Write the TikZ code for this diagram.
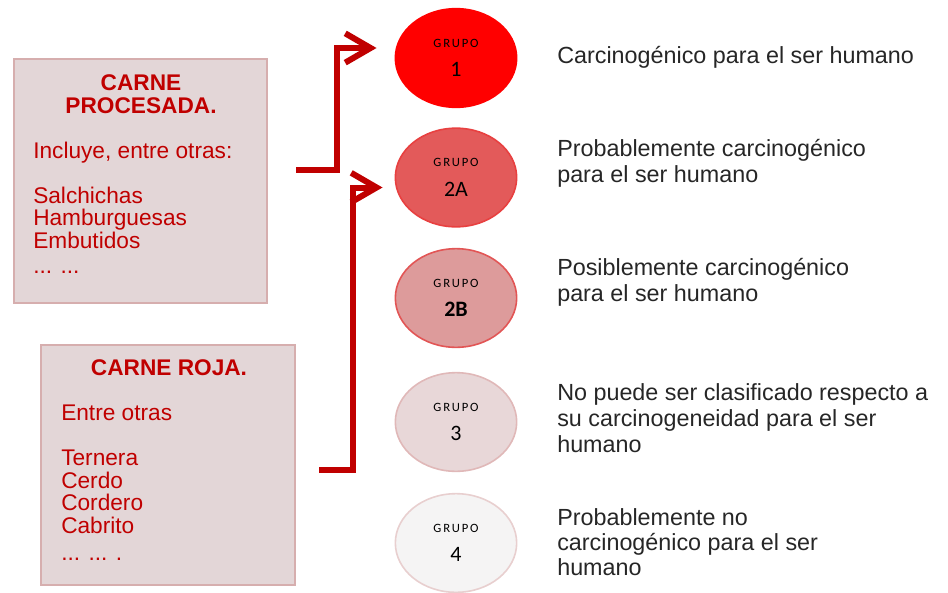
\documentclass[tikz,border=0pt]{standalone}
\usepackage{fontspec}
\setmainfont{Liberation Sans}
\newfontfamily\grupofont{Carlito}
\newfontfamily\grupoletras{Carlito}[LetterSpace=14]
\usetikzlibrary{shapes.geometric,arrows.meta}

\definecolor{rojoosc}{HTML}{C00000}
\definecolor{cajafondo}{HTML}{E3D6D7}
\definecolor{cajaborde}{HTML}{D6AEAE}
\definecolor{gunof}{HTML}{FF0000}
\definecolor{gdosaf}{HTML}{E35A5A}
\definecolor{gdosab}{HTML}{E84040}
\definecolor{gdosbf}{HTML}{DD9B9B}
\definecolor{gdosbb}{HTML}{E25555}
\definecolor{gtresf}{HTML}{E8D7D8}
\definecolor{gtresb}{HTML}{E0B8B8}
\definecolor{gcuatrof}{HTML}{F5F4F4}
\definecolor{gcuatrob}{HTML}{E8CFCF}

\newcommand{\rotulo}[1]{{\grupoletras\fontsize{9.5}{10}\selectfont GRUPO}\\[6pt]{\grupofont\fontsize{16.5}{16}\selectfont #1}}

\begin{document}
\begin{tikzpicture}[x=0.75pt, y=-0.75pt,
  caja/.style={draw=cajaborde, line width=1.5pt, fill=cajafondo, inner sep=0pt},
  grupo/.style={ellipse, line width=1.2pt, minimum width=91pt, minimum height=74pt, inner sep=0pt, align=center, text=black, font=\fontsize{16}{16}\selectfont},
  titulo/.style={text=rojoosc, font=\fontsize{17}{17}\selectfont\bfseries, anchor=base, inner sep=0pt},
  lista/.style={text=rojoosc, font=\fontsize{17}{17}\selectfont, anchor=base west, inner sep=0pt},
  texto/.style={text=black!85, font=\fontsize{17.5}{18}\selectfont, anchor=base west, inner sep=0pt},
  flecha/.style={rojoosc, line width=4.5pt, -{Straight Barb[length=19pt,width=22pt,line width=4.5pt]}}]
  \useasboundingbox (0,0) rectangle (948,592);

  % cajas de la izquierda
  \node[caja, minimum width=189.75pt, minimum height=183pt] (proc) at (140.5,181) {};
  \node[caja, minimum width=190.5pt, minimum height=180pt] (roja) at (168,465) {};

  \node[titulo] (proct1) at (141,90) {CARNE};
  \node[titulo] (proct2) at (141,113) {PROCESADA.};
  \foreach \y/\t [count=\i] in {158/{Incluye, entre otras:},203/Salchichas,225/Hamburguesas,248/Embutidos,273/{... ...}}
    \node[lista] (pl\i) at (33,\y) {\t};

  \node[titulo] (rojat) at (169,375) {CARNE ROJA.};
  \foreach \y/\t [count=\i] in {420/Entre otras,465/Ternera,488/Cerdo,510/Cordero,533/Cabrito,560/{... ... .}}
    \node[lista] (rl\i) at (61,\y) {\t};

  % grupos
  \node[grupo, draw=gunof, fill=gunof] (g1) at (456,58) {\rotulo{1}};
  \node[grupo, draw=gdosab, fill=gdosaf] (g2a) at (456,177.5) {\rotulo{2A}};
  \node[grupo, draw=gdosbb, fill=gdosbf] (g2b) at (456,298) {\rotulo{\bfseries 2B}};
  \node[grupo, draw=gtresb, fill=gtresf] (g3) at (456,422) {\rotulo{3}};
  \node[grupo, draw=gcuatrob, fill=gcuatrof] (g4) at (456,543) {\rotulo{4}};

  % textos de la derecha
  \foreach \y/\t [count=\i] in {64/{Carcinogénico para el ser humano},
      156/{Probablemente carcinogénico},182/{para el ser humano},
      275/{Posiblemente carcinogénico},301/{para el ser humano},
      400/{No puede ser clasificado respecto a},426/{su carcinogeneidad para el ser},452/humano,
      525/{Probablemente no},550/{carcinogénico para el ser},575/humano}
    \node[texto] (t\i) at (557,\y) {\t};

  % flechas
  \draw[flecha] ([shift={(28,-11)}]proc.east) -- ++(41,0) |- ([shift={(-18,-10)}]g1.west);
  \draw[flecha] ([shift={(23,5)}]roja.east) -- ++(34,0) |- ([shift={(-12,10)}]g2a.west);
\end{tikzpicture}
\end{document}
